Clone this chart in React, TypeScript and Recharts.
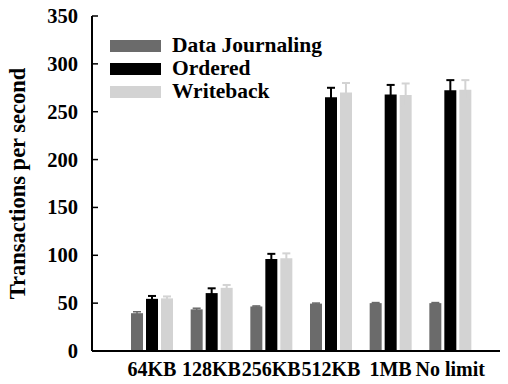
import React from 'react';
import { BarChart, Bar, XAxis, YAxis, ErrorBar, Legend } from 'recharts';

const categories = ['64KB', '128KB', '256KB', '512KB', '1MB', 'No limit'];
const journaling = [39.5, 43.5, 46.5, 49.5, 50, 50];
const journalingErr = [1.5, 1.2, 0.6, 0.6, 0.6, 0.6];
const ordered = [54.5, 60.5, 96, 265, 268, 272.5];
const orderedErr = [3, 5, 5.5, 10, 10, 10.5];
const writeback = [55, 66, 97, 270, 267.5, 273];
const writebackErr = [2, 3, 5, 10, 12, 10];
const yTicks = [0, 50, 100, 150, 200, 250, 300, 350];

const data = categories.map((name, i) => ({
  name,
  journaling: journaling[i],
  journalingErr: journalingErr[i],
  ordered: ordered[i],
  orderedErr: orderedErr[i],
  writeback: writeback[i],
  writebackErr: writebackErr[i],
}));

const FONT = 'Liberation Serif';
const DARK = '#6b6b6b';
const LIGHT = '#d3d3d3';

const LeftTick = (props: any) => {
  const { x, y, payload } = props;
  return (
    <g>
      <line x1={x} x2={x + 6} y1={y} y2={y} stroke="#000" strokeWidth={1.5} />
      <text
        x={x - 14}
        y={y}
        dy="0.34em"
        textAnchor="end"
        style={{ fontFamily: FONT, fontWeight: 700, fontSize: 20.5 }}
        fill="#000"
      >
        {payload.value}
      </text>
    </g>
  );
};

const RightTick = (props: any) => {
  const { x, y } = props;
  return <line x1={x - 6} x2={x} y1={y} y2={y} stroke="#000" strokeWidth={1.5} />;
};

const TopTick = (props: any) => {
  const { x, y } = props;
  return <line x1={x} x2={x} y1={y} y2={y + 6} stroke="#000" strokeWidth={1.5} />;
};

const LegendContent = (props: any) => {
  const { payload } = props;
  return (
    <div style={{ fontFamily: FONT, fontWeight: 700, fontSize: 21.5, color: '#000' }}>
      {(payload || []).map((entry: any) => (
        <div
          key={entry.value}
          style={{ display: 'flex', alignItems: 'center', height: 23, lineHeight: '23px' }}
        >
          <span
            style={{
              display: 'inline-block',
              width: 51,
              height: 12,
              background: entry.color,
              marginRight: 11,
            }}
          />
          <span>{entry.value}</span>
        </div>
      ))}
    </div>
  );
};

export default function App() {
  return (
    <div style={{ margin: -8, width: 508, height: 384, overflow: 'hidden', background: '#fff', fontFamily: FONT }}>
      <BarChart
        width={528}
        height={384}
        data={data}
        margin={{ top: 16, right: 8, bottom: 3, left: 8 }}
        barSize={12}
        barGap={3}
        style={{ fontFamily: FONT }}
      >
        <XAxis
          xAxisId="bottom"
          dataKey="name"
          orientation="bottom"
          interval={0}
          padding={{ left: 30, right: 30 }}
          height={30}
          tickLine={false}
          tickSize={0}
          tickMargin={11}
          axisLine={{ stroke: '#000', strokeWidth: 2 }}
          tick={{ fill: '#000', style: { fontFamily: FONT, fontWeight: 700, fontSize: 20 } }}
        />
        <XAxis
          xAxisId="top"
          dataKey="name"
          orientation="top"
          interval={0}
          padding={{ left: 30, right: 30 }}
          height={0}
          tickLine={false}
          tickSize={0}
          tickMargin={0}
          axisLine={{ stroke: '#000', strokeWidth: 2 }}
          tick={TopTick}
        />
        <YAxis
          yAxisId="left"
          orientation="left"
          width={84}
          domain={[0, 350]}
          ticks={yTicks}
          interval={0}
          tickLine={false}
          tickSize={0}
          tickMargin={0}
          axisLine={{ stroke: '#000', strokeWidth: 2 }}
          tick={LeftTick}
          label={{
            value: 'Transactions per second',
            angle: -90,
            position: 'insideLeft',
            offset: 9,
            style: {
              textAnchor: 'middle',
              fontFamily: FONT,
              fontWeight: 700,
              fontSize: 22.5,
              fill: '#000',
            },
          }}
        />
        <YAxis
          yAxisId="right"
          orientation="right"
          width={10}
          domain={[0, 350]}
          ticks={yTicks}
          interval={0}
          tickLine={false}
          tickSize={0}
          tickMargin={0}
          axisLine={{ stroke: '#000', strokeWidth: 2 }}
          tick={RightTick}
        />
        <Legend
          layout="vertical"
          align="center"
          verticalAlign="middle"
          content={LegendContent}
          wrapperStyle={{ position: 'absolute', left: 110, top: 34, width: 'auto', height: 'auto' }}
        />
        <Bar
          xAxisId="bottom"
          yAxisId="left"
          dataKey="journaling"
          name="Data Journaling"
          fill={DARK}
          isAnimationActive={false}
        >
          <ErrorBar dataKey="journalingErr" width={4} stroke={DARK} strokeWidth={1.5} />
        </Bar>
        <Bar
          xAxisId="bottom"
          yAxisId="left"
          dataKey="ordered"
          name="Ordered"
          fill="#000"
          isAnimationActive={false}
        >
          <ErrorBar dataKey="orderedErr" width={4} stroke="#000" strokeWidth={2} />
        </Bar>
        <Bar
          xAxisId="bottom"
          yAxisId="left"
          dataKey="writeback"
          name="Writeback"
          fill={LIGHT}
          isAnimationActive={false}
        >
          <ErrorBar dataKey="writebackErr" width={4} stroke={LIGHT} strokeWidth={2} />
        </Bar>
      </BarChart>
    </div>
  );
}
